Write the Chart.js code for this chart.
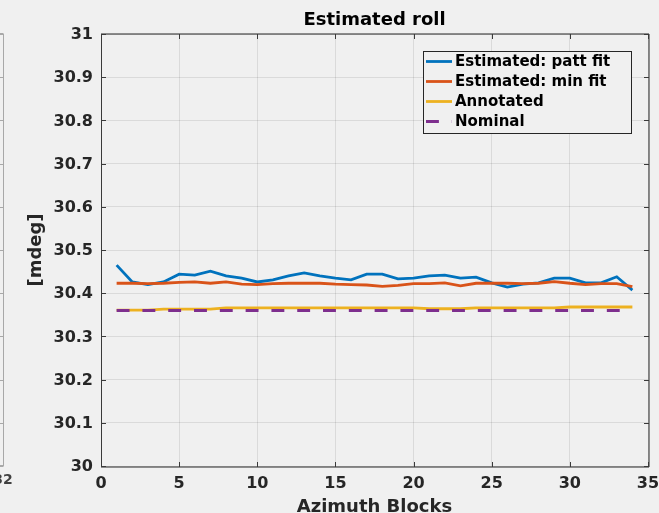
<!DOCTYPE html>
<html>
<head>
<meta charset="utf-8">
<script src="https://cdn.jsdelivr.net/npm/chart.js@4.4.0/dist/chart.umd.min.js"></script>
<style>
html,body{margin:0;padding:0;background:#f0f0f0;}
#wrap{width:659px;height:513px;position:relative;}
canvas{display:block;}
</style>
</head>
<body>
<div id="wrap"><canvas id="c" width="659" height="513"></canvas></div>
<script>
// ---- data ----
const azimuthBlocks = [1,2,3,4,5,6,7,8,9,10,11,12,13,14,15,16,17,18,19,20,21,22,23,24,25,26,27,28,29,30,31,32,33,34];
const pattFit = [30.465,30.426,30.420,30.426,30.444,30.442,30.451,30.440,30.435,30.426,30.431,30.440,30.447,30.440,30.435,30.431,30.444,30.444,30.433,30.435,30.440,30.442,30.435,30.437,30.424,30.414,30.421,30.424,30.435,30.435,30.424,30.424,30.438,30.407];
const minFit = [30.423,30.423,30.422,30.423,30.425,30.426,30.423,30.426,30.421,30.420,30.422,30.423,30.423,30.423,30.421,30.420,30.419,30.416,30.418,30.422,30.422,30.424,30.417,30.423,30.423,30.423,30.422,30.423,30.427,30.423,30.420,30.422,30.422,30.415];
const annotated = [30.361,30.361,30.361,30.363,30.363,30.363,30.363,30.366,30.366,30.366,30.366,30.366,30.366,30.366,30.366,30.366,30.366,30.366,30.366,30.366,30.364,30.364,30.364,30.366,30.366,30.366,30.366,30.366,30.366,30.368,30.368,30.368,30.368,30.368];
const nominal = [30.36,30.36,30.36,30.36,30.36,30.36,30.36,30.36,30.36,30.36,30.36,30.36,30.36,30.36,30.36,30.36,30.36,30.36,30.36,30.36,30.36,30.36,30.36,30.36,30.36,30.36,30.36,30.36,30.36,30.36,30.36,30.36,30.36,30.36];
const xTicks = [0,5,10,15,20,25,30,35];
const yTicks = [30,30.1,30.2,30.3,30.4,30.5,30.6,30.7,30.8,30.9,31];
const seriesNames = ['Estimated: patt fit','Estimated: min fit','Annotated','Nominal'];
const titleText = 'Estimated roll';
const xLabel = 'Azimuth Blocks';
const yLabel = '[mdeg]';
const neighbourTickLabel = '32';

// ---- chart ----
Chart.defaults.font.family = '"DejaVu Sans", sans-serif';
const pts = arr => azimuthBlocks.map((x, i) => ({x: x, y: arr[i]}));
const FONT16 = {family: '"DejaVu Sans"', size: 16, weight: 'bold', lineHeight: 1.2};
const FONT18 = {family: '"DejaVu Sans"', size: 18, weight: 'bold', lineHeight: 1};

const framePlugin = {
  id: 'frame',
  beforeDraw(chart) {
    const ctx = chart.ctx;
    ctx.save();
    ctx.fillStyle = '#f0f0f0';
    ctx.fillRect(0, 0, chart.width, chart.height);
    // neighbouring subplot edge (clipped at left)
    const a = chart.chartArea;
    ctx.strokeStyle = '#a8a8a8';
    ctx.lineWidth = 1;
    ctx.beginPath();
    ctx.moveTo(3.5, a.top); ctx.lineTo(3.5, a.bottom);
    ctx.moveTo(0, a.top - 0.5); ctx.lineTo(3.5, a.top - 0.5);
    ctx.moveTo(0, a.bottom - 0.5); ctx.lineTo(3.5, a.bottom - 0.5);
    const ys = chart.scales.y;
    yTicks.forEach(v => {
      const p = Math.round(ys.getPixelForValue(v)) + 0.5;
      ctx.moveTo(0, p); ctx.lineTo(3.5, p);
    });
    ctx.stroke();
    ctx.fillStyle = '#404040';
    ctx.font = 'bold 14px "DejaVu Sans"';
    ctx.textAlign = 'center';
    ctx.textBaseline = 'middle';
    ctx.fillText(neighbourTickLabel, 3, 480);
    ctx.restore();
  },
  afterDatasetsDraw(chart) {
    const ctx = chart.ctx;
    const a = chart.chartArea;
    const xs = chart.scales.x, ys = chart.scales.y;
    ctx.save();
    ctx.lineWidth = 1;
    ctx.strokeStyle = '#262626';
    ctx.beginPath();
    ctx.moveTo(a.left, a.top); ctx.lineTo(a.right + 1, a.top);
    ctx.moveTo(a.right + 1, a.top); ctx.lineTo(a.right + 1, a.bottom + 1);
    ctx.moveTo(a.left, a.bottom + 1); ctx.lineTo(a.right + 1, a.bottom + 1);
    ctx.stroke();
    ctx.strokeStyle = '#3a3a3a';
    ctx.beginPath();
    ctx.moveTo(a.left + 0.5, a.top); ctx.lineTo(a.left + 0.5, a.bottom + 1);
    // inward ticks
    const tl = 5;
    xTicks.forEach(v => {
      const p = Math.round(xs.getPixelForValue(v)) + 0.5;
      ctx.moveTo(p, a.bottom + 1); ctx.lineTo(p, a.bottom + 1 - tl);
      ctx.moveTo(p, a.top); ctx.lineTo(p, a.top + tl);
    });
    yTicks.forEach(v => {
      const p = Math.round(ys.getPixelForValue(v)) + 0.5;
      ctx.moveTo(a.left, p); ctx.lineTo(a.left + tl, p);
      ctx.moveTo(a.right + 1, p); ctx.lineTo(a.right + 1 - tl, p);
    });
    ctx.stroke();
    ctx.restore();
  },
  afterDraw(chart) {
    const ctx = chart.ctx;
    const a = chart.chartArea;
    const ds = chart.data.datasets;
    const x0 = a.right - 224.5, y0 = a.top + 17.5, w = 208, h = 82;
    ctx.save();
    ctx.fillStyle = '#f0f0f0';
    ctx.fillRect(x0, y0, w, h);
    ctx.strokeStyle = '#262626';
    ctx.lineWidth = 1;
    ctx.strokeRect(x0, y0, w, h);
    ctx.font = 'bold 15px "DejaVu Sans"';
    ctx.textBaseline = 'middle';
    ctx.textAlign = 'left';
    ds.forEach((d, i) => {
      const yy = y0 + 10 + i * 20;
      ctx.strokeStyle = d.borderColor;
      ctx.lineWidth = d.borderWidth;
      ctx.lineCap = 'butt';
      ctx.setLineDash(d.borderDash || []);
      ctx.beginPath();
      ctx.moveTo(x0 + 2.5, yy); ctx.lineTo(x0 + 28.5, yy);
      ctx.stroke();
      ctx.setLineDash([]);
      ctx.fillStyle = '#000';
      ctx.fillText(d.label, x0 + 31.5, yy + 1);
    });
    ctx.restore();
  }
};

const mk = (label, arr, color, order, dash) => ({
  label: label,
  data: pts(arr),
  borderColor: color,
  backgroundColor: color,
  borderWidth: 2.8,
  borderDash: dash || [],
  pointRadius: 0,
  pointHoverRadius: 0,
  tension: 0,
  fill: false,
  order: order
});

const zeroPad = s => { s.paddingLeft = 0; s.paddingRight = 0; s.paddingTop = 0; s.paddingBottom = 0; };

new Chart(document.getElementById('c'), {
  type: 'line',
  data: {
    datasets: [
      mk(seriesNames[0], pattFit, '#0072BD', 4),
      mk(seriesNames[1], minFit, '#D95319', 3),
      mk(seriesNames[2], annotated, '#EDB120', 2),
      mk(seriesNames[3], nominal, '#7E2F8E', 1, [12.9, 12.9])
    ]
  },
  options: {
    responsive: false,
    animation: false,
    devicePixelRatio: 1,
    layout: {padding: {left: 0, right: 11, top: 0, bottom: 0}},
    plugins: {
      legend: {display: false},
      tooltip: {enabled: false},
      title: {
        display: true,
        text: titleText,
        fullSize: false,
        color: '#000',
        font: FONT18,
        padding: {top: 11.6, bottom: 4.4}
      }
    },
    scales: {
      x: {
        type: 'linear',
        min: 0, max: 35,
        afterBuildTicks: s => { s.ticks = xTicks.map(v => ({value: v})); },
        afterFit: s => { s.height = 47; zeroPad(s); },
        ticks: {font: FONT16, color: '#262626', padding: 8.5, maxRotation: 0, autoSkip: false},
        grid: {color: 'rgba(0,0,0,0.09)', drawTicks: false},
        border: {display: false},
        title: {display: true, text: xLabel, color: '#262626', font: FONT18, padding: {top: 0, bottom: -3.5}}
      },
      y: {
        type: 'linear',
        min: 30, max: 31,
        afterBuildTicks: s => { s.ticks = yTicks.map(v => ({value: v})); },
        afterFit: s => { s.width = 101; zeroPad(s); },
        ticks: {font: FONT16, color: '#262626', padding: 8, labelOffset: 1, callback: v => String(+Number(v).toFixed(2))},
        grid: {color: 'rgba(0,0,0,0.09)', drawTicks: false},
        border: {display: false},
        title: {display: true, text: yLabel, color: '#262626', font: FONT18, padding: {top: 27.2, bottom: 0}}
      }
    }
  },
  plugins: [framePlugin]
});
</script>
</body>
</html>
